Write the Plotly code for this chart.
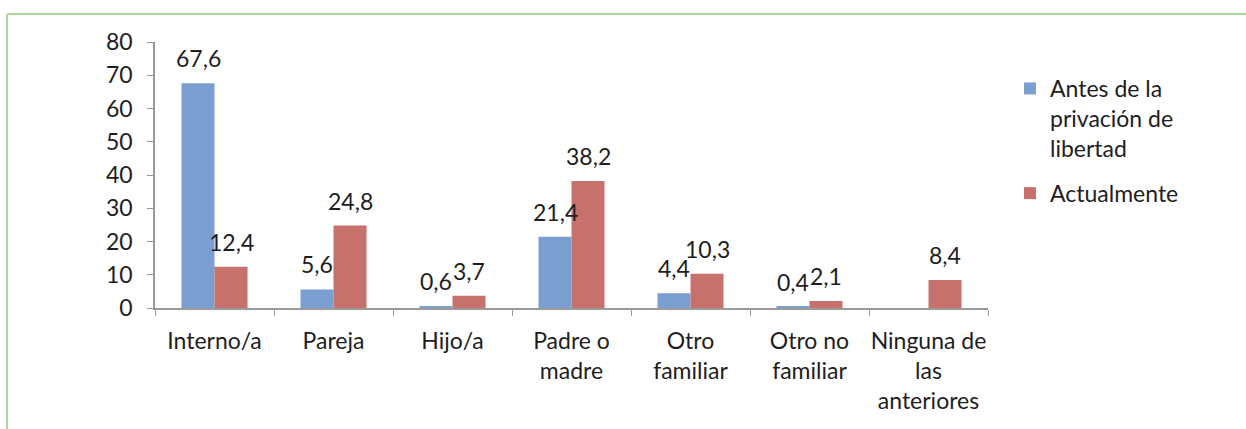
import plotly.graph_objects as go

# Categories and series (percentages)
categories = ["Interno/a", "Pareja", "Hijo/a", "Padre o<br>madre", "Otro<br>familiar",
              "Otro no<br>familiar", "Ninguna de<br>las<br>anteriores"]
antes = [67.6, 5.6, 0.6, 21.4, 4.4, 0.4, None]
actualmente = [12.4, 24.8, 3.7, 38.2, 10.3, 2.1, 8.4]
y_ticks = [0, 10, 20, 30, 40, 50, 60, 70, 80]

BLUE = "#7B9FD0"
RED = "#C6716C"
FONT = "Lato"
FS = 23
TEXT = "#1e1e1e"
AXIS = "#9a9a9a"

W, H = 1246, 429
ML, MR, MT, MB = 155, 258, 42, 121
PW, PH = W - ML - MR, H - MT - MB

fig = go.Figure()
fig.add_trace(go.Bar(x=categories, y=antes, name="Antes de la<br>privación de<br>libertad",
                     legendgroup="a", marker=dict(color=BLUE, line=dict(width=0))))
fig.add_trace(go.Bar(x=categories, y=actualmente, name="Actualmente",
                     legendgroup="b", marker=dict(color=RED, line=dict(width=0))))


def fmt(v):
    return f"{v:.1f}".replace(".", ",")


# Value labels above each bar
bar_px = 33
for series, shift in ((antes, -bar_px / 2), (actualmente, bar_px / 2)):
    for cat, v in zip(categories, series):
        if v is None:
            continue
        fig.add_annotation(x=cat, y=v, xref="x", yref="y", text=fmt(v), showarrow=False,
                           xshift=shift, yshift=9, yanchor="bottom",
                           font=dict(family=FONT, size=FS, color=TEXT))

# Green frame (top and left edges)
def px_x(p):
    return (p - ML) / PW


def px_y(p):
    return (H - MB - p) / PH


frame = dict(color="#A9D89B", width=2)
fig.add_shape(type="line", xref="paper", yref="paper", x0=px_x(7), x1=px_x(W + 5),
              y0=px_y(14), y1=px_y(14), line=frame)
fig.add_shape(type="line", xref="paper", yref="paper", x0=px_x(7), x1=px_x(7),
              y0=px_y(14), y1=px_y(H + 5), line=frame)

fig.update_layout(
    width=W, height=H,
    margin=dict(l=ML, r=MR, t=MT, b=MB, autoexpand=False),
    paper_bgcolor="white", plot_bgcolor="white",
    barmode="group", bargap=0.445, bargroupgap=0,
    separators=",.",
    font=dict(family=FONT, size=FS, color=TEXT),
    showlegend=True,
    legend=dict(x=px_x(1010), y=px_y(67), xanchor="left", yanchor="top",
                font=dict(family=FONT, size=FS, color=TEXT), valign="top",
                traceorder="grouped", itemsizing="constant", tracegroupgap=12,
                bgcolor="rgba(0,0,0,0)"),
    xaxis=dict(showline=True, linecolor=AXIS, linewidth=1.5, ticks="outside",
               tickson="boundaries", ticklen=6, tickcolor=AXIS, showgrid=False,
               tickangle=0, ticklabelstandoff=12,
               tickfont=dict(family=FONT, size=FS, color=TEXT)),
    yaxis=dict(range=[0, 80], tickvals=y_ticks, showline=True, linecolor=AXIS, linewidth=1.5,
               ticks="outside", ticklen=6, tickcolor=AXIS, showgrid=False, zeroline=False,
               ticklabelstandoff=10,
               tickfont=dict(family=FONT, size=FS, color=TEXT)),
)

fig.write_html("out.html")
